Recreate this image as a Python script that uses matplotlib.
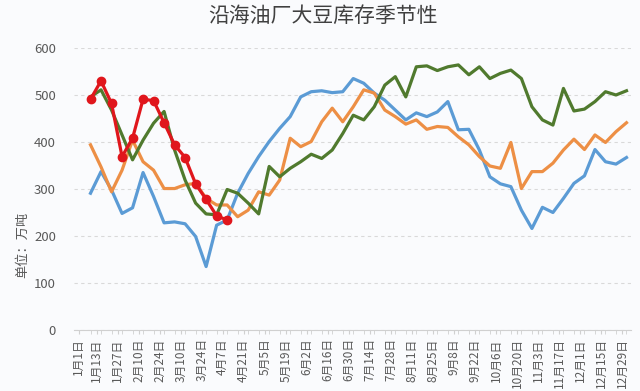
import matplotlib
matplotlib.use("Agg")
import matplotlib.pyplot as plt
import numpy as np

plt.rcParams['font.family'] = ['Noto Sans CJK SC', 'DejaVu Sans']

title = "沿海油厂大豆库存季节性"
ylabel = "单位：万吨"

tick_days = [0] + list(range(12, 363, 14))
tick_labels = ["1月1日", "1月13日", "1月27日", "2月10日", "2月24日", "3月10日", "3月24日",
               "4月7日", "4月21日", "5月5日", "5月19日", "6月2日", "6月16日", "6月30日",
               "7月14日", "7月28日", "8月11日", "8月25日", "9月8日", "9月22日", "10月6日",
               "10月20日", "11月3日", "11月17日", "12月1日", "12月15日", "12月29日"]

blue = [291, 337, 298, 248, 260, 335, 284, 228, 230, 226, 199, 135, 223, 234, 291, 333,
        369, 401, 429, 454, 496, 507, 509, 505, 507, 535, 525, 504, 489, 468, 447, 462,
        454, 464, 486, 426, 427, 383, 326, 311, 305, 255, 216, 261, 250, 280, 312, 328,
        384, 358, 353, 367]
orange = [394, 347, 294, 340, 404, 358, 340, 301, 301, 309, 312, 280, 266, 266, 241, 255,
          294, 287, 319, 408, 390, 401, 443, 472, 443, 475, 511, 504, 468, 454, 438, 447,
          427, 433, 431, 411, 394, 369, 349, 344, 399, 301, 337, 337, 355, 383, 406, 384,
          415, 399, 422, 441]
green = [496, 511, 468, 415, 362, 404, 440, 465, 383, 319, 270, 247, 245, 299, 291, 270,
         247, 348, 326, 344, 358, 374, 365, 383, 418, 457, 447, 475, 521, 539, 496, 560,
         562, 552, 560, 564, 543, 560, 535, 546, 553, 535, 475, 447, 436, 514, 466, 470,
         486, 507, 500, 509]
red = [491, 530, 482, 369, 408, 491, 488, 441, 394, 367, 311, 278, 243, 234]

days = np.arange(len(blue)) * 7 + 8
red_days = days[:len(red)]

fig = plt.figure(figsize=(6.4, 3.91), dpi=100)
bg = "#fafbfd"
fig.patch.set_facecolor(bg)
ax = fig.add_axes([74/640, 1 - 330/391, (631-74)/640, (330-48)/391])
ax.set_facecolor(bg)

ax.plot(days, blue, color="#5b9bd5", lw=2.3, zorder=3)
ax.plot(days, orange, color="#ed8f45", lw=2.3, zorder=3)
ax.plot(days, green, color="#507a2e", lw=2.3, zorder=4)
ax.plot(red_days, red, color="#e0161c", lw=2.3, marker="o", markersize=6, zorder=5)

ax.set_ylim(0, 600)
ax.set_xlim(-3, 368)
ax.set_yticks(range(0, 601, 100))
ax.set_xticks(tick_days)
ax.set_xticklabels(tick_labels, rotation=90, fontsize=8.5, color="#595959")
ax.set_xticks(days, minor=True)
ax.tick_params(axis='y', length=0, labelsize=9.5, labelcolor="#595959", pad=13)
ax.tick_params(axis='x', which='both', length=3, color="#d0d0d0", pad=3)
ax.grid(axis='y', color="#d9d9d9", linestyle=(0, (3, 3)), lw=0.8)
ax.set_axisbelow(True)
for s in ["top", "right", "left"]:
    ax.spines[s].set_visible(False)
ax.spines["bottom"].set_color("#d0d0d0")

fig.text(0.505, 0.960, title, ha="center", va="center", fontsize=15, color="#404040")
fig.text(0.036, 1 - 245/391, ylabel, rotation=90, ha="center", va="center",
         fontsize=9.5, color="#595959")

fig.savefig("out.png", dpi=100, facecolor=bg)
